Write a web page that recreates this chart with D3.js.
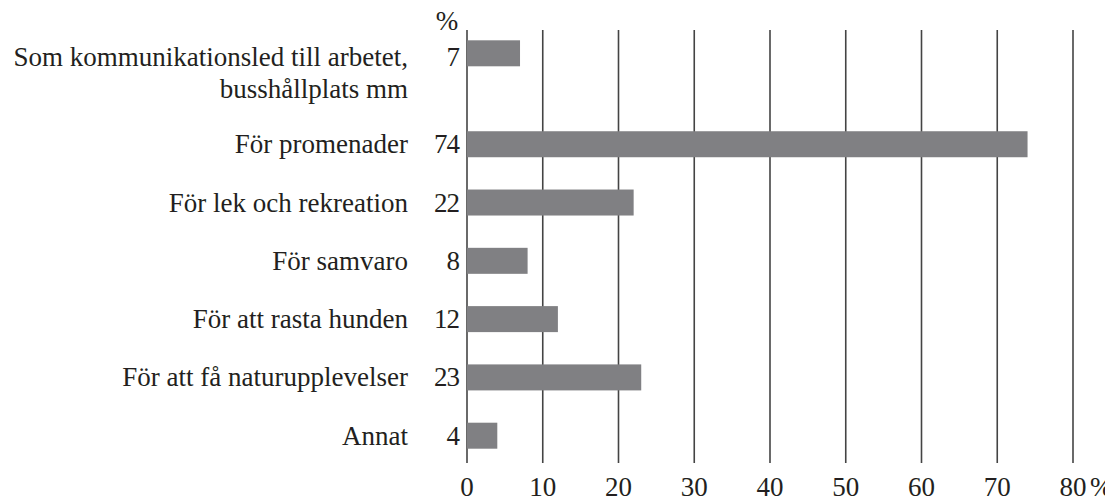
<!DOCTYPE html>
<html>
<head>
<meta charset="utf-8">
<script src="https://cdn.jsdelivr.net/npm/d3@7"></script>
<style>
  body { margin: 0; background: #fff; }
</style>
</head>
<body>
<svg id="chart" width="1105" height="496"></svg>
<script>
// data
const categories = [
    ["Som kommunikationsled till arbetet,", "busshållplats mm"],
    ["För promenader"],
    ["För lek och rekreation"],
    ["För samvaro"],
    ["För att rasta hunden"],
    ["För att få naturupplevelser"],
    ["Annat"]
]
const values = [7, 74, 22, 8, 12, 23, 4]
const tickValues = [0, 10, 20, 30, 40, 50, 60, 70, 80]

const font = "'Liberation Serif', 'Times New Roman', Times, 'DejaVu Serif', serif"
const ink = '#231f20'

const svg = d3.select('#chart')
    .attr('font-family', font)
    .attr('fill', ink)

const x = d3.scaleLinear().domain([0, 80]).range([467, 1073])
// first row has two label lines, so the rest are pushed down a bit
const slot = (d, i) => i === 0 ? 0 : i + 0.56
const y = d3.scaleLinear().domain([0, 6.56]).range([53.3, 435.7])
const barH = 26
const fs = 27

// gridlines
svg.selectAll('.grid')
    .data(tickValues)
    .enter().append('line')
    .attr('class', 'grid')
    .attr('x1', d => x(d))
    .attr('x2', d => x(d))
    .attr('y1', 30)
    .attr('y2', 463)
    .attr('stroke', '#444')
    .attr('stroke-width', 1.6)

// bars
svg.selectAll('.bar')
    .data(values)
    .enter().append('rect')
    .attr('class', 'bar')
    .attr('x', x(0))
    .attr('y', (d, i) => y(slot(d, i)) - barH / 2)
    .attr('width', d => x(d) - x(0))
    .attr('height', barH)
    .attr('fill', '#808083')

// value labels
svg.selectAll('.val')
    .data(values)
    .enter().append('text')
    .attr('class', 'val')
    .attr('x', 459)
    .attr('y', (d, i) => y(slot(d, i)) + (i === 0 ? 12.5 : 9))
    .attr('text-anchor', 'end')
    .attr('font-size', fs)
    .attr('letter-spacing', -1)
    .text(d => d)

// category labels
const cat = svg.selectAll('.cat')
    .data(categories)
    .enter().append('text')
    .attr('class', 'cat')
    .attr('text-anchor', 'end')
    .attr('font-size', fs)
    .attr('transform', (d, i) => `translate(408,${y(slot(d, i)) + (i === 0 ? 12.5 : 9)})`)

cat.selectAll('tspan')
    .data(d => d)
    .enter().append('tspan')
    .attr('x', 0)
    .attr('dy', (d, j) => j === 0 ? 0 : 32)
    .text(d => d)

// "%" above the axis
svg.append('text')
    .attr('x', 447)
    .attr('y', 30)
    .attr('text-anchor', 'middle')
    .attr('font-size', fs)
    .text('%')

// bottom tick labels
svg.selectAll('.tick')
    .data(tickValues)
    .enter().append('text')
    .attr('class', 'tick')
    .attr('x', d => x(d))
    .attr('y', 496)
    .attr('text-anchor', 'middle')
    .attr('font-size', fs)
    .text(d => d)

svg.append('text')
    .attr('x', x(80) + 17)
    .attr('y', 496)
    .attr('font-size', fs)
    .text('%')
</script>
</body>
</html>
